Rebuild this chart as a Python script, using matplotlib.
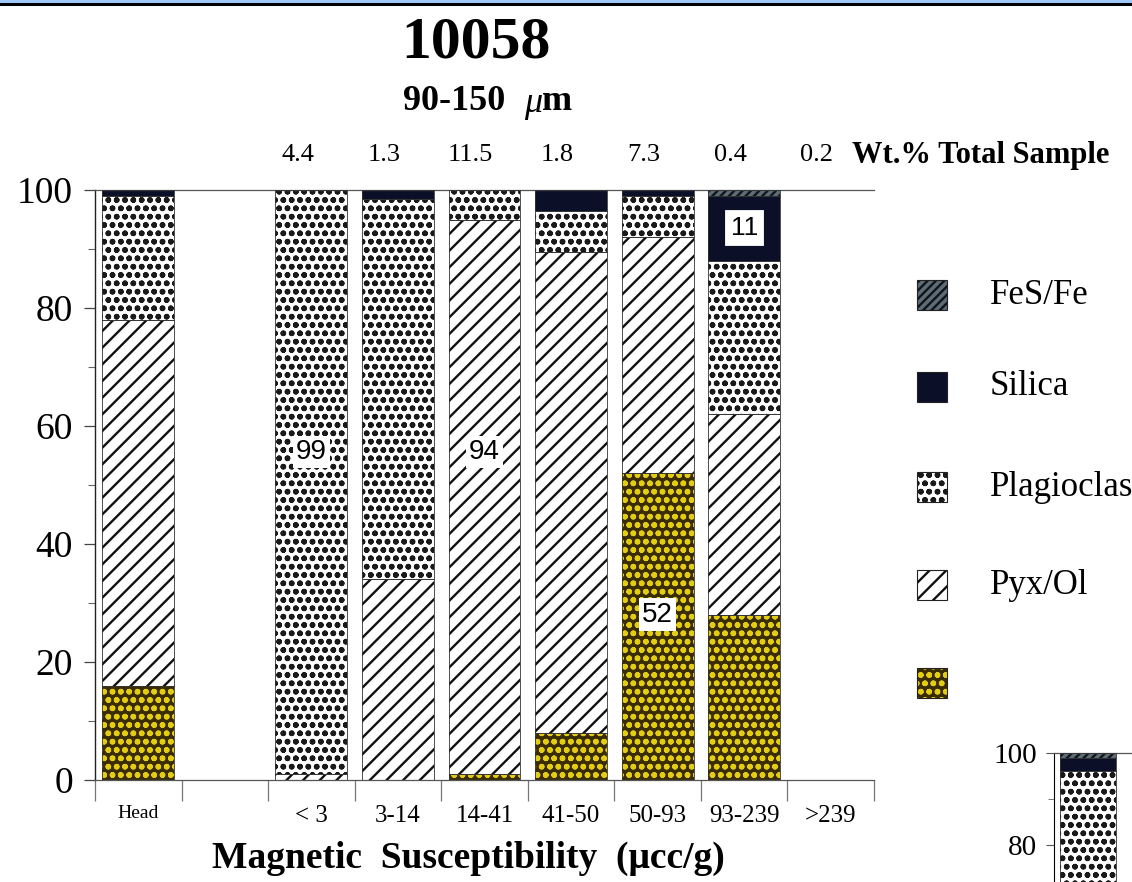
import matplotlib
matplotlib.use("Agg")
import matplotlib.pyplot as plt
from matplotlib.patches import Rectangle
from matplotlib.ticker import FixedLocator, MultipleLocator, NullFormatter
import numpy as np

# ---- data -------------------------------------------------------------
categories = ["Head", "", "< 3", "3-14", "14-41", "41-50", "50-93", "93-239", ">239"]
wt_pct = [None, None, 4.4, 1.3, 11.5, 1.8, 7.3, 0.4, 0.2]

# modal abundances (vol.%) stacked bottom -> top
opaque = [16, 0, 0, 0, 1, 8, 52, 28, 0]
pyx_ol = [62, 0, 1, 34, 94, 81.5, 40, 34, 0]
plagioclase = [21, 0, 99, 64.5, 5, 7, 7, 26, 0]
silica = [1, 0, 0, 1.5, 0, 3.5, 1, 11, 0]
fes_fe = [0, 0, 0, 0, 0, 0, 0, 1, 0]

# neighbouring panel (head fraction of the next size split)
next_opaque = [15]
next_pyx_ol = [55]
next_plagioclase = [26]
next_silica = [3]
next_fes_fe = [1]
next_yticks = [80, 100]

legend_names = ["FeS/Fe", "Silica", "Plagioclase", "Pyx/Ol", ""]

# boxed value labels: (category index, series key, y position, framed)
value_labels = [(2, "plag", 55.6, False), (4, "pyx", 55.6, False),
                (6, "opq", 28.0, False), (7, "sil", 93.6, True)]

# ---- styles -----------------------------------------------------------
plt.rcParams["hatch.linewidth"] = 1.7
SERIF = "Liberation Serif"
SANS = "Liberation Sans"

styles = {
    "opq": dict(face="#3a2d02", hatchc="#e3cc12", hatch="oo"),
    "pyx": dict(face="white", hatchc="#111111", hatch="//"),
    "plag": dict(face="white", hatchc="#1a1a1a", hatch="oo"),
    "sil": dict(face="#0b1028", hatchc="#0b1028", hatch=None),
    "fes": dict(face="#5d6d78", hatchc="#101418", hatch="////"),
}

W, H = 1132, 882
fig = plt.figure(figsize=(W / 100, H / 100), dpi=100)


def fx(px):
    return px / W


def fy(py):
    return 1 - py / H


def draw_stack(ax, series, width):
    x = np.arange(len(series[0][1]))
    bottom = np.zeros(len(x))
    for key, vals in series:
        vals = np.asarray(vals, dtype=float)
        st = styles[key]
        m = vals > 0
        ax.bar(x[m], vals[m], bottom=bottom[m], width=width, color=st["face"],
               edgecolor=st["hatchc"], linewidth=0, hatch=st["hatch"], zorder=2)
        ax.bar(x[m], vals[m], bottom=bottom[m], width=width, fill=False,
               edgecolor="#333333", linewidth=0.6, zorder=3)
        bottom += vals
    return x


# ---- main panel -------------------------------------------------------
ax = fig.add_axes([fx(95), fy(780), fx(874) - fx(95), fy(190) - fy(780)])
series = [("opq", opaque), ("pyx", pyx_ol), ("plag", plagioclase),
          ("sil", silica), ("fes", fes_fe)]
x = draw_stack(ax, series, 0.83)
ax.set_xlim(-0.5, len(categories) - 0.5)
ax.set_ylim(0, 100)

ax.spines["right"].set_visible(False)
ax.spines["top"].set_color("#555555")
ax.spines["top"].set_linewidth(0.9)
ax.spines["bottom"].set_color("#555555")
ax.spines["bottom"].set_linewidth(0.9)
ax.spines["left"].set_color("#222222")
ax.spines["left"].set_linewidth(1.0)

ax.yaxis.set_major_locator(MultipleLocator(20))
ax.yaxis.set_minor_locator(MultipleLocator(10))
ax.tick_params(axis="y", which="major", length=8, width=0.9, color="#444444",
               labelsize=27, pad=8)
ax.tick_params(axis="y", which="minor", length=5, width=0.8, color="#666666")
for lab in ax.get_yticklabels():
    lab.set_fontfamily(SERIF)

ax.set_xticks(x)
ax.set_xticklabels(categories, fontfamily=SERIF, fontsize=18)
ax.get_xticklabels()[0].set_fontsize(14)
ax.tick_params(axis="x", which="major", length=0, pad=18)
ax.xaxis.set_minor_locator(FixedLocator(np.arange(-0.5, len(categories), 1.0)))
ax.xaxis.set_minor_formatter(NullFormatter())
ax.tick_params(axis="x", which="minor", length=15, width=0.9, color="#777777")

fig.text(fx(468), fy(858), "Magnetic  Susceptibility  (\u03bccc/g)",
         fontfamily=SERIF, fontsize=27, fontweight="bold", ha="center",
         va="center")

# weight percent of each fraction along the top
for i, w in enumerate(wt_pct):
    if w is None:
        continue
    ax.annotate(f"{w}", xy=(i, 1), xycoords=("data", "axes fraction"),
                xytext=(-10, 25), textcoords="offset points", ha="center",
                va="center", fontfamily=SERIF, fontsize=19)
fig.text(fx(852), fy(155), "Wt.% Total Sample", fontfamily=SERIF, fontsize=22,
         fontweight="bold", ha="left", va="center")

# boxed values
lookup = {"opq": opaque, "pyx": pyx_ol, "plag": plagioclase, "sil": silica,
          "fes": fes_fe}
for i, key, ypos, framed in value_labels:
    txt = f"{lookup[key][i]:.0f}"
    if framed:
        box = dict(boxstyle="square,pad=0.3", facecolor="white",
                   edgecolor="#0b1028", linewidth=3)
    else:
        box = dict(boxstyle="square,pad=0.12", facecolor="white",
                   edgecolor="none")
    ax.text(i, ypos, txt, ha="center", va="center", fontfamily=SANS,
            fontsize=20 if not framed else 19, bbox=box, zorder=5)

# titles
fig.text(fx(476), fy(44), "10058", fontfamily=SERIF, fontsize=43,
         fontweight="bold", ha="center", va="center")
fig.text(fx(505), fy(101), "90-150", fontfamily=SERIF, fontsize=26,
         fontweight="bold", ha="right", va="center")
fig.text(fx(524), fy(103), "\u03bc", fontfamily=SERIF, fontsize=26,
         fontstyle="italic", ha="left", va="center")
fig.text(fx(542), fy(101), "m", fontfamily=SERIF, fontsize=26,
         fontweight="bold", ha="left", va="center")

# ---- legend -----------------------------------------------------------
leg_keys = ["fes", "sil", "plag", "pyx", "opq"]
leg_y = [295, 387, 487, 585, 683]
for key, name, yc in zip(leg_keys, legend_names, leg_y):
    st = styles[key]
    fig.add_artist(Rectangle((fx(917), fy(yc + 15)), fx(30), fy(yc - 15) - fy(yc + 15),
                             transform=fig.transFigure, facecolor=st["face"],
                             edgecolor=st["hatchc"], hatch=st["hatch"],
                             linewidth=0))
    fig.add_artist(Rectangle((fx(917), fy(yc + 15)), fx(30), fy(yc - 15) - fy(yc + 15),
                             transform=fig.transFigure, fill=False,
                             edgecolor="#222222", linewidth=0.8))
    if name:
        fig.text(fx(990), fy(yc), name, fontfamily=SERIF, fontsize=25,
                 ha="left", va="center")

# ---- neighbouring panel (partly off the page) ------------------------
scale = 4.6
ax2 = fig.add_axes([fx(1054), fy(753 + 100 * scale), fx(9 * 67.5),
                    fy(753) - fy(753 + 100 * scale)])
series2 = [("opq", next_opaque), ("pyx", next_pyx_ol), ("plag", next_plagioclase),
           ("sil", next_silica), ("fes", next_fes_fe)]
draw_stack(ax2, series2, 0.83)
ax2.set_xlim(-0.5, 8.5)
ax2.set_ylim(0, 100)
ax2.spines["right"].set_visible(False)
ax2.spines["top"].set_color("#555555")
ax2.spines["top"].set_linewidth(0.9)
ax2.yaxis.set_major_locator(FixedLocator(next_yticks))
ax2.yaxis.set_minor_locator(FixedLocator([90]))
ax2.tick_params(axis="y", which="major", length=6, width=0.8, color="#555555",
                labelsize=21, pad=6)
ax2.tick_params(axis="y", which="minor", length=4, width=0.7, color="#777777")
for lab in ax2.get_yticklabels():
    lab.set_fontfamily(SERIF)
ax2.set_xticks([])

# ---- page border --------------------------------------------------------
fig.add_artist(Rectangle((0, fy(3)), 1, fy(0) - fy(3), transform=fig.transFigure,
                         facecolor="#9ec9f7", edgecolor="none"))
fig.add_artist(Rectangle((0, fy(6)), 1, fy(3) - fy(6), transform=fig.transFigure,
                         facecolor="black", edgecolor="none"))

fig.savefig("out.png", dpi=100)
